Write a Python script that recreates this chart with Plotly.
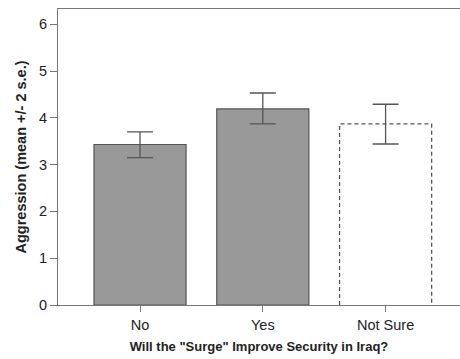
import plotly.graph_objects as go

categories = ["No", "Yes", "Not Sure"]
means = [3.43, 4.19, 3.87]
err_hi = [3.70, 4.53, 4.29]
err_lo = [3.15, 3.87, 3.44]
y_ticks = [0, 1, 2, 3, 4, 5, 6]

xpos = list(range(len(categories)))
bar_w = 0.75
solid = [0, 1]
dashed = [2]

fig = go.Figure()

fig.add_trace(go.Bar(
    x=[xpos[i] for i in solid], y=[means[i] for i in solid], width=bar_w,
    marker=dict(color="#999999", line=dict(color="#555555", width=1.2)),
    showlegend=False, hoverinfo="skip"))

# dashed outline bar (Not Sure)
for i in dashed:
    x0, x1 = xpos[i] - bar_w / 2, xpos[i] + bar_w / 2
    fig.add_trace(go.Scatter(
        x=[x0, x0, x1, x1], y=[0, means[i], means[i], 0], mode="lines",
        line=dict(color="#555555", width=1.3, dash="4px,3px"),
        showlegend=False, hoverinfo="skip"))

# error bars
fig.add_trace(go.Scatter(
    x=xpos, y=means, mode="markers", marker=dict(size=0.1, color="rgba(0,0,0,0)"),
    error_y=dict(type="data", symmetric=False,
                 array=[h - m for h, m in zip(err_hi, means)],
                 arrayminus=[m - l for m, l in zip(means, err_lo)],
                 color="#555555", thickness=1.3, width=13),
    showlegend=False, hoverinfo="skip"))

font = "Liberation Sans, Arial, Helvetica, sans-serif"
fig.update_layout(
    width=460, height=359,
    margin=dict(l=58, r=0, t=9, b=54),
    paper_bgcolor="white", plot_bgcolor="white",
    font=dict(family=font, color="#222222", size=14),
    xaxis=dict(range=[-0.668, 2.606], tickvals=xpos, ticktext=categories,
               showgrid=False, zeroline=False, showline=True, linecolor="#777777",
               linewidth=1.2, mirror=True, ticks="outside", ticklen=6,
               tickcolor="#777777", tickfont=dict(size=14.5),
               title=dict(text="<b>Will the \"Surge\" Improve Security in Iraq?</b>",
                          font=dict(size=13), standoff=10)),
    yaxis=dict(range=[0, 6.325], tickvals=y_ticks, showgrid=False, zeroline=False,
               showline=True, linecolor="#777777", linewidth=1.2,
               ticks="outside", ticklen=7, tickcolor="#777777",
               tickfont=dict(size=14.5),
               title=dict(text="<b>Aggression (mean +/- 2 s.e.)</b>",
                          font=dict(size=14.5), standoff=8)),
)

fig.write_html("out.html")
